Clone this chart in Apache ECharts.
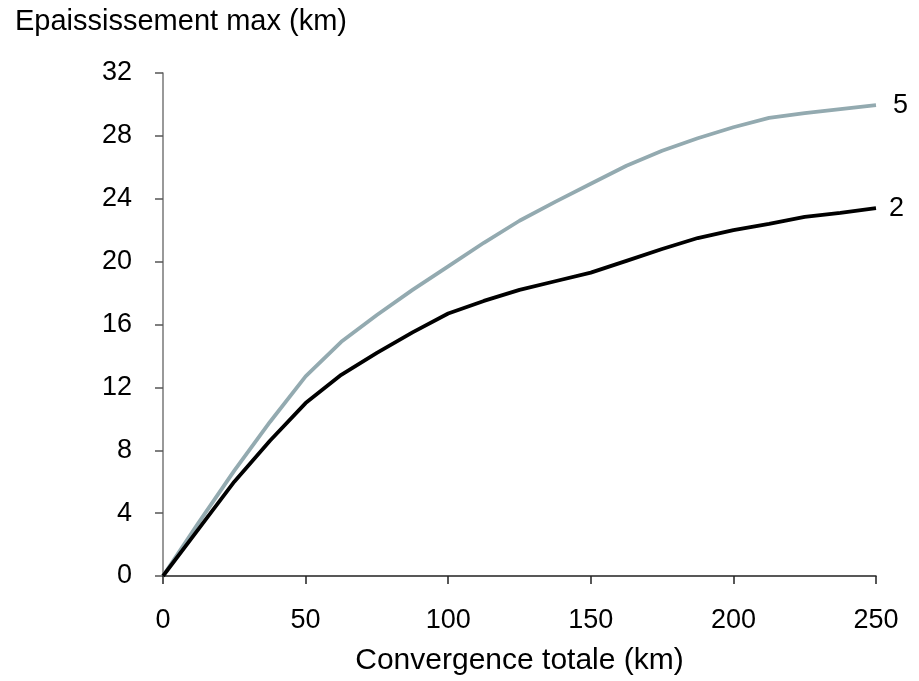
<!DOCTYPE html>
<html>
<head>
<meta charset="utf-8">
<script src="https://cdn.jsdelivr.net/npm/echarts@6/dist/echarts.min.js"></script>
<style>html,body{margin:0;padding:0;background:#fff;}#c{width:919px;height:681px;}</style>
</head>
<body>
<div id="c"></div>
<script>
const convergence = [0, 12.5, 25, 37.5, 50, 62.5, 75, 87.5, 100, 112.5, 125, 137.5, 150, 162.5, 175, 187.5, 200, 212.5, 225, 237.5, 250];
const series5 = [0, 3.4, 6.7, 9.8, 12.7, 14.9, 16.6, 18.2, 19.7, 21.2, 22.6, 23.8, 24.95, 26.1, 27.05, 27.85, 28.55, 29.15, 29.45, 29.7, 29.95];
const series2 = [0, 3.0, 6.0, 8.6, 11.0, 12.8, 14.2, 15.5, 16.7, 17.5, 18.2, 18.75, 19.3, 20.05, 20.8, 21.5, 22.0, 22.4, 22.85, 23.1, 23.4];
const seriesNames = ['5', '2'];
const xTitle = 'Convergence totale (km)';
const yTitle = 'Epaississement max (km)';

const font = 'Liberation Sans, Arial, sans-serif';
const fs = 27;
const chart = echarts.init(document.getElementById('c'));
function pts(ys){ return convergence.map((x,i)=>[x, ys[i]]); }
chart.setOption({
  backgroundColor: '#fff',
  animation: false,
  title: { text: yTitle, left: 10, top: 2, textStyle: { fontFamily: font, fontSize: 29, fontWeight: 'normal', color: '#000' } },
  grid: { left: 163, right: 43, top: 73, bottom: 103 },
  xAxis: {
    type: 'value', min: 0, max: 250, interval: 50,
    name: xTitle, nameLocation: 'middle', nameGap: 70,
    nameTextStyle: { fontFamily: font, fontSize: 30, color: '#000' },
    axisLine: { show: true, lineStyle: { color: '#222', width: 1.5 } },
    axisTick: { show: true, length: 8, lineStyle: { color: '#222', width: 1.5 } },
    axisLabel: { fontFamily: font, fontSize: fs, color: '#000', margin: 31 },
    splitLine: { show: false }
  },
  yAxis: {
    type: 'value', min: 0, max: 32, interval: 4,
    axisLine: { show: true, lineStyle: { color: '#777', width: 1.5 } },
    axisTick: { show: true, length: 8, lineStyle: { color: '#555', width: 1.5 } },
    axisLabel: { fontFamily: font, fontSize: fs, color: '#000', margin: 31 },
    splitLine: { show: false }
  },
  series: [
    { name: seriesNames[0], type: 'line', data: pts(series5), showSymbol: false, symbol: 'none',
      lineStyle: { color: '#93aab0', width: 3.8 },
      endLabel: { show: true, formatter: seriesNames[0], fontFamily: font, fontSize: fs, color: '#000', distance: 17 } },
    { name: seriesNames[1], type: 'line', data: pts(series2), showSymbol: false, symbol: 'none',
      lineStyle: { color: '#000', width: 3.8 },
      endLabel: { show: true, formatter: seriesNames[1], fontFamily: font, fontSize: fs, color: '#000', distance: 13 } }
  ]
});
</script>
</body>
</html>
